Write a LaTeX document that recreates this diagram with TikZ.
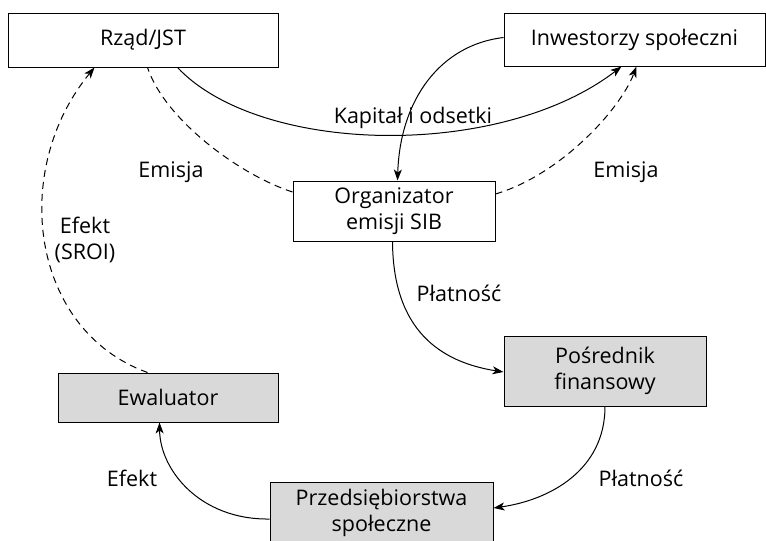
\documentclass[tikz,border=0pt]{standalone}
\usepackage{fontspec}
\setmainfont{Open Sans}
\usetikzlibrary{arrows.meta,calc}
\begin{document}
\begin{tikzpicture}[x=1pt,y=-1pt,
  box/.style={draw,line width=1pt,rectangle,align=center,inner sep=0pt,
    font=\fontsize{21.5}{25.5}\selectfont},
  gbox/.style={box,fill=black!15},
  lbl/.style={align=center,inner sep=0pt,font=\fontsize{21.5}{25.5}\selectfont},
  con/.style={line width=1pt},
  arr/.style={con,-{Stealth[length=11pt,width=8pt,inset=3pt]}},
  dsh/.style={dash pattern=on 7pt off 5pt}]
\useasboundingbox (0,0) rectangle (766,541);
\node[box,minimum width=270pt,minimum height=54pt] (rz) at (143,40) {Rząd/JST};
\node[box,minimum width=261pt,minimum height=53pt] (inw) at (634.5,39.5) {Inwestorzy społeczni};
\node[box,minimum width=202pt,minimum height=60pt] (org) at (394,211) {Organizator\\emisji SIB};
\node[gbox,minimum width=202pt,minimum height=70pt] (pos) at (605,371) {Pośrednik\\finansowy};
\node[gbox,minimum width=220pt,minimum height=49pt] (ewa) at (168,397.5) {Ewaluator};
\node[gbox,minimum width=223pt,minimum height=62pt] (prz) at (381.5,513) {Przedsiębiorstwa\\społeczne};
% Rzad -> Inwestorzy
\draw[arr] ($(rz.south west)+(170,0)$) .. controls (260,155) and (500,160) .. ($(inw.south west)+(118,0)$);
\node[lbl] (l1) at (413,118) {Kapitał i odsetki};
% Inwestorzy -> Organizator
\draw[arr] ($(inw.west)+(0,-2)$) .. controls (440,45) and (400,100) .. ($(org.north west)+(105,0)$);
% Organizator - Rzad dashed
\draw[con,dsh] ($(org.west)+(0,-19)$) .. controls (240,175) and (165,120) .. ($(rz.south west)+(140,0)$);
\node[lbl] (l2) at (171,172) {Emisja};
% Organizator -> Inwestorzy dashed
\draw[arr,dsh] ($(org.east)+(0,-17)$) .. controls (560,175) and (620,110) .. ($(inw.south west)+(133,0)$);
\node[lbl] (l3) at (626,172) {Emisja};
% Ewaluator -> Rzad dashed
\draw[arr,dsh] ($(ewa.north west)+(90,0)$) .. controls (30,330) and (10,170) .. ($(rz.south west)+(87,0)$);
\node[lbl] (l4) at (85,240) {Efekt\\(SROI)};
% Organizator -> Posrednik
\draw[arr] ($(org.south west)+(100,0)$) .. controls (393,330) and (440,362) .. ($(pos.west)+(0,1)$);
\node[lbl] (l5) at (459,293) {Płatność};
% Posrednik -> Przedsiebiorstwa
\draw[arr] (pos.south) .. controls (605,470) and (550,500) .. ($(prz.east)+(0,-5)$);
\node[lbl] (l6) at (641,478) {Płatność};
% Przedsiebiorstwa -> Ewaluator
\draw[arr] ($(prz.west)+(0,6)$) .. controls (200,520) and (160,470) .. ($(ewa.south west)+(102,0)$);
\node[lbl] (l7) at (132,478) {Efekt};
\end{tikzpicture}
\end{document}
